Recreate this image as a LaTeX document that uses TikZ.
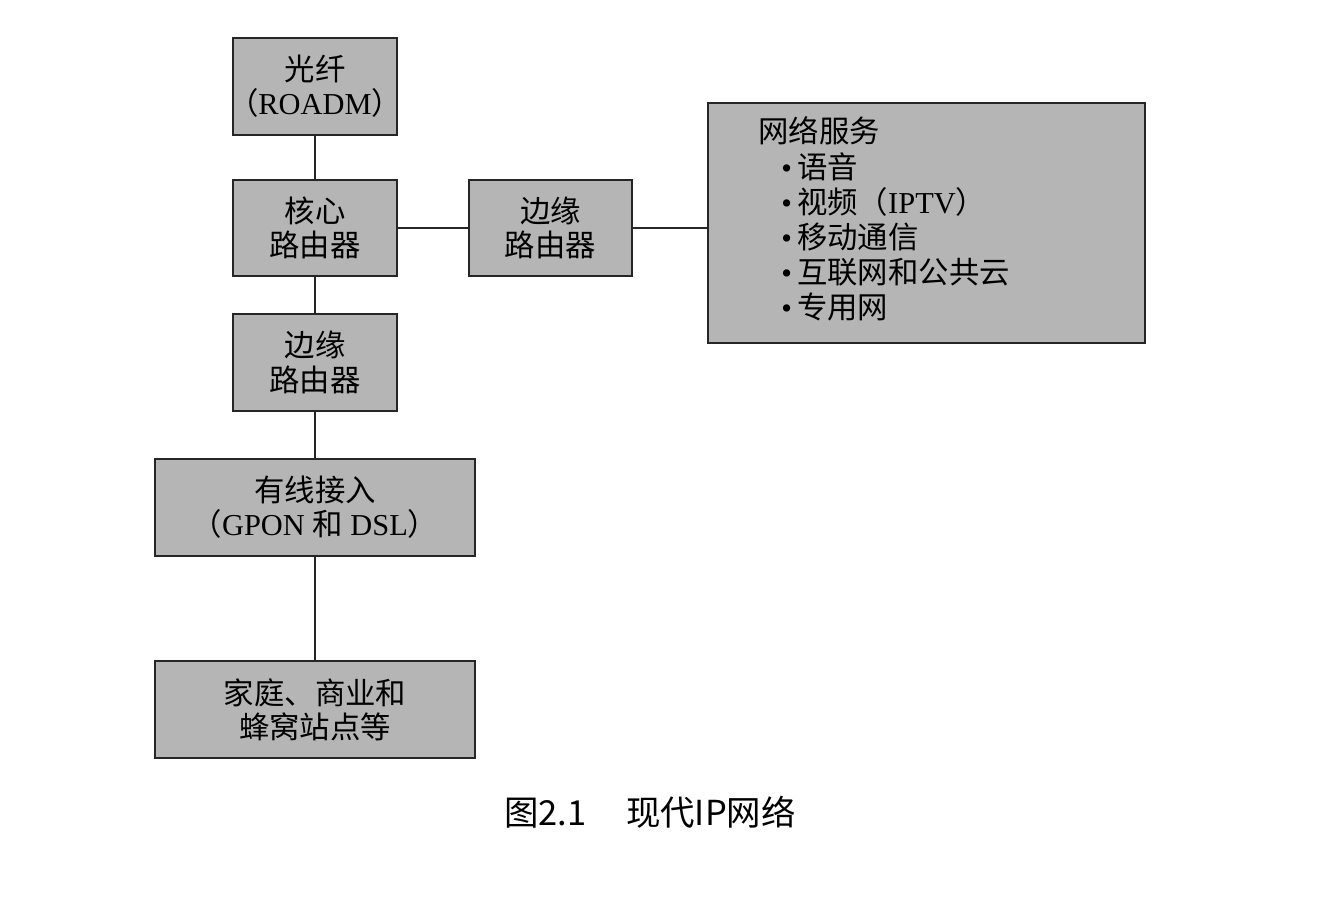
\documentclass[tikz,border=0pt]{standalone}
\usepackage{fontspec}
\setmainfont{Liberation Serif}
\newfontfamily\cjk{Noto Sans CJK SC}
\begin{document}
\begin{tikzpicture}[x=0.02cm,y=-0.02cm,
  box/.style={draw=black!85,line width=1.2pt,fill=black!29,inner sep=0pt,align=center,
    font=\fontsize{17.3pt}{19.5pt}\selectfont},
  link/.style={draw=black!85,line width=1.2pt}]
\useasboundingbox (0,0) rectangle (1322,902);
\node[box,minimum width=3.28cm,minimum height=1.94cm] (fiber) at (315,86.5)
  {{\cjk 光纤}\\\makebox[3cm][c]{{\cjk （}ROADM{\cjk ）}}};
\node[box,minimum width=3.28cm,minimum height=1.92cm] (core) at (315,228)
  {{\cjk 核心}\\{\cjk 路由器}};
\node[box,minimum width=3.26cm,minimum height=1.92cm] (edgeR) at (550.5,228)
  {{\cjk 边缘}\\{\cjk 路由器}};
\node[box,minimum width=8.74cm,minimum height=4.8cm] (svc) at (926.5,223) {};
\node[box,minimum width=3.28cm,minimum height=1.94cm] (edgeL) at (315,362.5)
  {{\cjk 边缘}\\{\cjk 路由器}};
\node[box,minimum width=6.4cm,minimum height=1.94cm] (access) at (315,507.5)
  {{\cjk 有线接入}\\{\cjk （}GPON {\cjk 和} DSL{\cjk ）}};
\node[box,minimum width=6.4cm,minimum height=1.94cm] (home) at (315,709.5)
  {{\cjk 家庭、商业和}\\{\cjk 蜂窝站点等}};
\node[anchor=north west,inner sep=0pt,align=left,font=\fontsize{17.3pt}{35\dimexpr0.02cm\relax}\selectfont] (svctext) at (758,116)
  {{\cjk 网络服务}\\[15\dimexpr0.02cm\relax]
   \hspace*{0.46cm}•\,{\cjk 语音}\\
   \hspace*{0.46cm}•\,{\cjk 视频（}IPTV{\cjk ）}\\
   \hspace*{0.46cm}•\,{\cjk 移动通信}\\
   \hspace*{0.46cm}•\,{\cjk 互联网和公共云}\\
   \hspace*{0.46cm}•\,{\cjk 专用网}};
\node[inner sep=0pt,font=\cjk\fontsize{19.6pt}{23pt}\selectfont] (cap) at (650,812)
  {图2.1\hspace{1.15em}现代IP网络};
\draw[link] (fiber) -- (core);
\draw[link] (core) -- (edgeL);
\draw[link] (edgeL) -- (access);
\draw[link] (access) -- (home);
\draw[link] (core) -- (edgeR);
\draw[link] (edgeR.east) -- (edgeR.east -| svc.west);
\end{tikzpicture}
\end{document}
